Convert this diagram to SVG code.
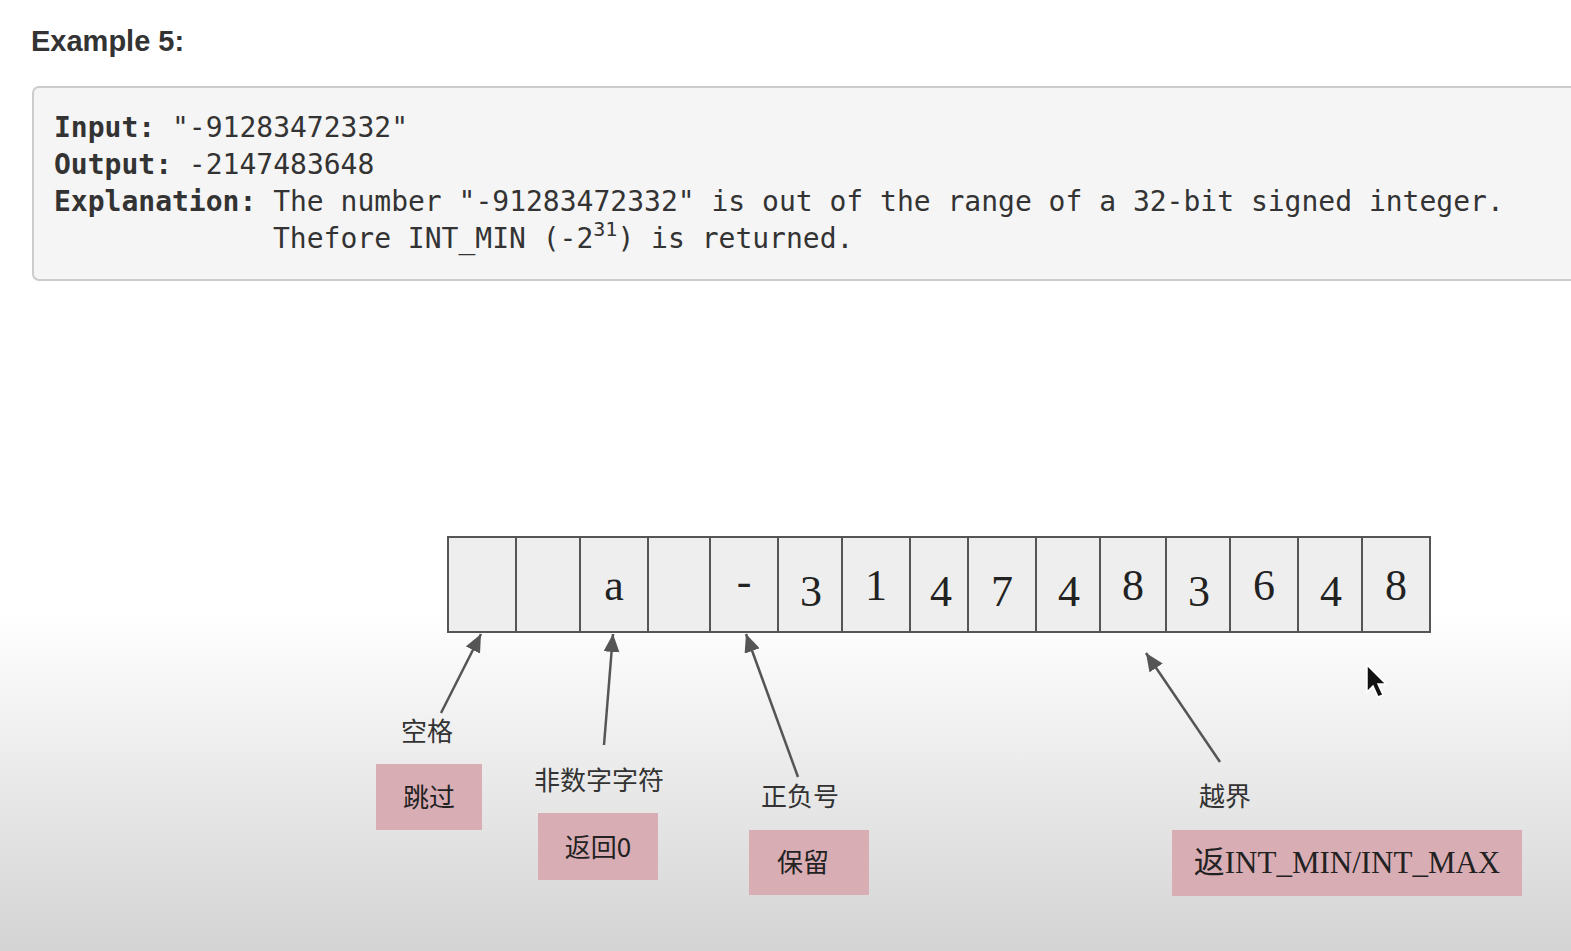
<svg xmlns="http://www.w3.org/2000/svg" width="1571" height="951" viewBox="0 0 1571 951">
<defs>
<linearGradient id="bg" x1="0" y1="0" x2="0" y2="1">
<stop offset="0" stop-color="#ffffff"/>
<stop offset="0.64" stop-color="#ffffff"/>
<stop offset="1" stop-color="#d4d4d4"/>
</linearGradient>
<marker id="ah" markerWidth="20" markerHeight="16" refX="18" refY="8" orient="auto" markerUnits="userSpaceOnUse">
<path d="M0,0 L18,8 L0,16 Z" fill="#555"/>
</marker>
<style>
.title{font-family:"Liberation Sans",Arial,sans-serif;font-weight:bold;font-size:29px;fill:#333}
.code{font-family:"DejaVu Sans Mono",monospace;font-size:28px;fill:#333}
.codeb{font-weight:bold}
.cell{fill:#eeeeee;stroke:#555;stroke-width:2}
.ct{font-family:"Liberation Serif","DejaVu Serif",serif;font-size:44px;fill:#222;text-anchor:middle}
.lbl{font-family:"Noto Sans CJK SC",sans-serif;font-size:26px;fill:#333;text-anchor:middle}
.box{fill:#d9adb4}
.bt{font-family:"Noto Sans CJK SC",sans-serif;font-size:26px;fill:#222;text-anchor:middle}
.conn{stroke:#555;stroke-width:2.5;fill:none;marker-end:url(#ah)}
</style>
</defs>
<rect x="0" y="0" width="1571" height="951" fill="url(#bg)"/>
<g id="header">
<text class="title" x="31" y="51">Example 5:</text>
</g>
<g id="codebox">
<rect x="33" y="87" width="1560" height="193" rx="6" fill="#f5f5f5" stroke="#cccccc" stroke-width="2"/>
<text class="code" x="54" y="137"><tspan class="codeb">Input:</tspan> "-91283472332"</text>
<text class="code" x="54" y="174"><tspan class="codeb">Output:</tspan> -2147483648</text>
<text class="code" x="54" y="211"><tspan class="codeb">Explanation:</tspan> The number "-91283472332" is out of the range of a 32-bit signed integer.</text>
<text class="code" x="273" y="248">Thefore INT_MIN (-2<tspan font-size="20" dy="-12">31</tspan><tspan dy="12">) is returned.</tspan></text>
</g>
<g id="array">
<rect class="cell" x="448" y="537" width="68" height="95"/>
<rect class="cell" x="516" y="537" width="64" height="95"/>
<rect class="cell" x="580" y="537" width="68" height="95"/>
<rect class="cell" x="648" y="537" width="62" height="95"/>
<rect class="cell" x="710" y="537" width="68" height="95"/>
<rect class="cell" x="778" y="537" width="64" height="95"/>
<rect class="cell" x="842" y="537" width="68" height="95"/>
<rect class="cell" x="910" y="537" width="58" height="95"/>
<rect class="cell" x="968" y="537" width="68" height="95"/>
<rect class="cell" x="1036" y="537" width="64" height="95"/>
<rect class="cell" x="1100" y="537" width="66" height="95"/>
<rect class="cell" x="1166" y="537" width="64" height="95"/>
<rect class="cell" x="1230" y="537" width="68" height="95"/>
<rect class="cell" x="1298" y="537" width="64" height="95"/>
<rect class="cell" x="1362" y="537" width="68" height="95"/>
<text class="ct" x="614" y="600">a</text>
<text class="ct" x="744" y="596">-</text>
<text class="ct" x="811" y="606">3</text>
<text class="ct" x="876" y="600">1</text>
<text class="ct" x="941" y="606">4</text>
<text class="ct" x="1002" y="606">7</text>
<text class="ct" x="1069" y="606">4</text>
<text class="ct" x="1133" y="600">8</text>
<text class="ct" x="1199" y="606">3</text>
<text class="ct" x="1264" y="600">6</text>
<text class="ct" x="1331" y="606">4</text>
<text class="ct" x="1396" y="600">8</text>
</g>
<g id="connectors">
<line class="conn" x1="441" y1="713" x2="481" y2="634"/>
<line class="conn" x1="604" y1="745" x2="613" y2="634"/>
<line class="conn" x1="798" y1="777" x2="746" y2="634"/>
<line class="conn" x1="1220" y1="762" x2="1146" y2="653"/>
</g>
<g id="space">
<text class="lbl" x="427" y="741">空格</text>
<rect class="box" x="376" y="764" width="106" height="66"/>
<text class="bt" x="429" y="807">跳过</text>
</g>
<g id="nondigit">
<text class="lbl" x="599" y="790">非数字字符</text>
<rect class="box" x="538" y="813" width="120" height="67"/>
<text class="bt" x="598" y="857">返回0</text>
</g>
<g id="sign">
<text class="lbl" x="800" y="806">正负号</text>
<rect class="box" x="749" y="830" width="120" height="65"/>
<text class="bt" x="803" y="872">保留</text>
</g>
<g id="overflow">
<text class="lbl" x="1225" y="806">越界</text>
<rect class="box" x="1172" y="830" width="350" height="66"/>
<text x="1347" y="873" text-anchor="middle" font-family="'Liberation Serif','Noto Sans CJK SC',serif" font-size="31" fill="#222">返INT_MIN/INT_MAX</text>
</g>
<g id="cursor">
<path d="M1367,665 L1367,692 L1373,686 L1378,697 L1383,695 L1378,684 L1386,684 Z" fill="#111" stroke="#fff" stroke-width="1.5"/>
</g>
</svg>
